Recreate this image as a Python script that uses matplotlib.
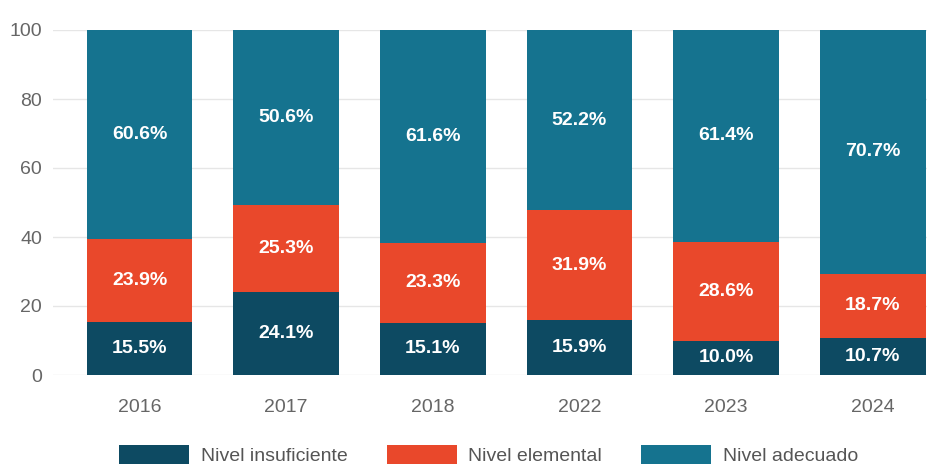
import numpy as np
import matplotlib
matplotlib.use("Agg")
import matplotlib.pyplot as plt

plt.rcParams['font.family'] = ['Liberation Sans', 'DejaVu Sans']

years = ['2016', '2017', '2018', '2022', '2023', '2024']
insuficiente = [15.5, 24.1, 15.1, 15.9, 10.0, 10.7]
elemental = [23.9, 25.3, 23.3, 31.9, 28.6, 18.7]
adecuado = [60.6, 50.6, 61.6, 52.2, 61.4, 70.7]
labels = ['Nivel insuficiente', 'Nivel elemental', 'Nivel adecuado']
colors = ['#0d4a62', '#e9482b', '#15738f']

fig = plt.figure(figsize=(9.27, 4.66), dpi=100)
ax = fig.add_axes([53 / 927, 1 - 375 / 466, 1 - 53 / 927, (375 - 30) / 466])

ind = np.arange(len(years))
width = 0.72
a = np.array(insuficiente)
b = np.array(elemental)
c = np.array(adecuado)

bars = []
bottoms = [np.zeros(len(years)), a, a + b]
for vals, bot, col, lab in zip([a, b, c], bottoms, colors, labels):
    p = ax.bar(ind, vals, width, bottom=bot, color=col, label=lab, zorder=2)
    bars.append(p)
    for x, v, b0 in zip(ind, vals, bot):
        ax.text(x, b0 + v / 2, f"{v:.1f}%", ha='center', va='center',
                color='white', fontsize=14, fontweight='bold', zorder=3)

ax.set_ylim(0, 100)
ax.set_xlim(-0.59, 5.37)
ax.set_yticks(np.arange(0, 101, 20))
ax.set_xticks(ind, years)
ax.grid(axis='y', color='#e6e6e6', linewidth=1, zorder=0)
for s in ax.spines.values():
    s.set_visible(False)
ax.tick_params(axis='both', length=0, colors='#666666', labelsize=14)
ax.tick_params(axis='x', pad=17)
ax.tick_params(axis='y', pad=8)

fig.legend(handles=bars, labels=labels, loc='lower center', bbox_to_anchor=(0.527, -0.035),
           ncol=3, frameon=False, fontsize=14, handlelength=3.6, handleheight=1.1,
           columnspacing=2.0, handletextpad=0.6, labelcolor='#555555')

fig.savefig('out.png', dpi=100)
